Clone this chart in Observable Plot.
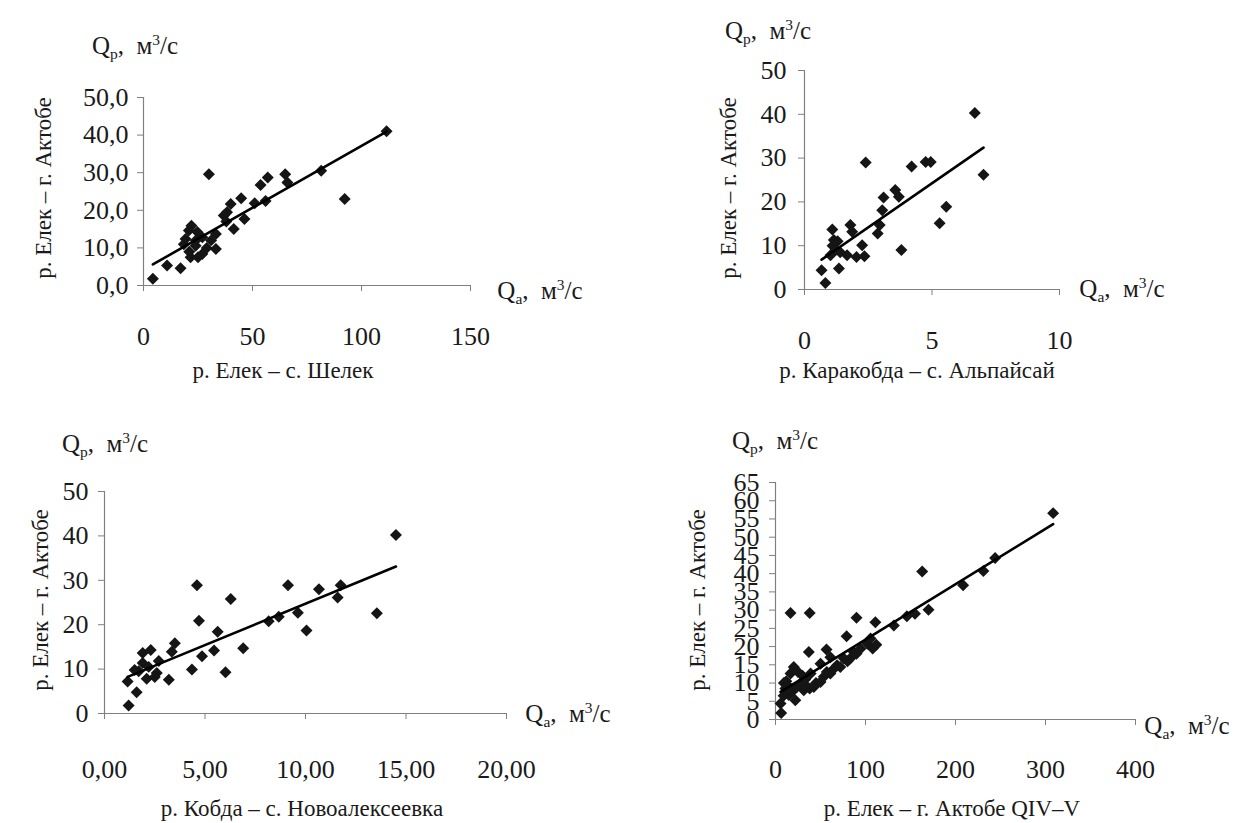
<!DOCTYPE html>
<html><head><meta charset="utf-8">
<script src="https://cdn.jsdelivr.net/npm/d3@7"></script>
<script src="https://cdn.jsdelivr.net/npm/@observablehq/plot@0.6"></script>
<style>
body{margin:0;background:#fff;}
#root{position:relative;width:1240px;height:823px;overflow:hidden;font-family:"Liberation Serif","Tinos","DejaVu Serif","Noto Serif","Times New Roman",Times,serif;color:#1a1a1a;background:#fff;}
.panel{position:absolute;}
.lbl{position:absolute;white-space:nowrap;font-size:25px;transform:translate(-50%,-50%);line-height:1;}
.lbl sub{font-size:0.62em;vertical-align:-0.35em;line-height:0;}
.lbl sup{font-size:0.62em;vertical-align:0.55em;line-height:0;}
.rot{transform:translate(-50%,-50%) rotate(-90deg);}
.ttl{font-size:23px;}
</style></head><body><div id="root"></div>
<script>
// ---- Panel 1: р. Елек – с. Шелек
const shelekQa = [4.3,10.8,17,30,92.3,81.5,111.5,65,66,57,53.7,56,51,44.8,40,38.3,46.3,41.4,36.8,22,33.2,33.2,27,21.6,19.3,24.7,23.9,18.5,27,20.8,25,29,21,31,24,38];
const shelekQp = [1.8,5.3,4.6,29.6,23,30.5,41,29.6,27.4,28.7,26.7,22.5,21.9,23.2,21.7,19.5,17.7,15,18.6,15.9,13.7,9.7,8.4,7.5,12.4,14.2,10.6,11,12.8,14.6,7.5,10,9,12,12,17];
const p1XTicks = [0,50,100,150];
const p1XLabels = ["0","50","100","150"];
const p1YTicks = [0,10,20,30,40,50];
const p1YLabels = ["0,0","10,0","20,0","30,0","40,0","50,0"];

// ---- Panel 2: р. Каракобда – с. Альпайсай
const alpQa = [0.82,0.67,1.35,1.09,1.15,1.02,1.22,1.4,1.8,1.87,1.67,2.04,2.26,2.35,2.4,2.87,2.95,3.05,3.1,3.56,3.7,3.8,4.2,4.75,4.95,5.3,5.56,6.68,7.02,1.1,1.3];
const alpQp = [1.5,4.4,4.8,13.7,11.3,7.8,9.0,8.5,14.7,13.2,7.8,7.4,10.1,7.6,29,12.8,14.7,18.1,21,22.7,21.2,9.0,28.1,29.1,29.1,15.1,18.9,40.3,26.2,10,11];
const p2XTicks = [0,5,10];
const p2XLabels = ["0","5","10"];
const p2YTicks = [0,10,20,30,40,50];
const p2YLabels = ["0","10","20","30","40","50"];

// ---- Panel 3: р. Кобда – с. Новоалексеевка
const novQa = [1.2,1.6,1.15,1.7,1.9,2.3,1.9,2.1,2.6,2.7,2.5,3.2,3.35,3.5,4.35,4.6,4.7,4.85,5.45,5.63,6.02,6.28,6.9,8.17,8.67,9.13,9.62,10.05,10.67,11.6,11.75,13.55,14.5,1.5,2.2];
const novQp = [1.8,4.8,7.2,9.5,13.6,14.3,11.4,7.8,9.1,11.8,8.2,7.6,13.9,15.8,9.9,28.9,20.9,12.9,14.2,18.4,9.3,25.8,14.7,20.8,21.8,28.9,22.7,18.7,28,26.1,28.9,22.6,40.2,9.8,10.5];
const p3XTicks = [0,5,10,15,20];
const p3XLabels = ["0,00","5,00","10,00","15,00","20,00"];
const p3YTicks = [0,10,20,30,40,50];
const p3YLabels = ["0","10","20","30","40","50"];

// ---- Panel 4: р. Елек – г. Актобе QIV–V
const aktQa = [6.3,5.6,9,11,9.3,12,14.8,18.5,16.7,20.3,22,24,27.8,31.4,35,38,42.6,45,50,53.7,39,30,50,57,61,61,65,68.5,72,76,80,83,87,90,94.4,102,105.6,108,112,16.7,38,37,56.7,79,90,111,131.5,146,155,163,170,208.5,231,244,308.5,25,33,15];
const aktQp = [1.8,4.4,6.5,8.5,10,10.5,6.7,7.6,12.6,14.4,5.3,9,9.9,8,9,8.5,8.9,10,10.3,11.7,12.6,12,15.3,13,12.6,17.1,14,14.9,14.4,16.7,16,16.7,18.5,18,19.4,20.8,22.2,19.5,20.5,29.2,29.2,18.5,19.2,22.8,27.9,26.7,25.8,28.3,29,40.6,30.1,36.8,40.7,44.3,56.6,13,11,9];
const p4XTicks = [0,100,200,300,400];
const p4XLabels = ["0","100","200","300","400"];
const p4YTicks = [0,5,10,15,20,25,30,35,40,45,50,55,60,65];
const p4YLabels = ["0","5","10","15","20","25","30","35","40","45","50","55","60","65"];

const yTitle = "р. Елек – г. Актобе";
const xTitles = ["р. Елек – с. Шелек","р. Каракобда – с. Альпайсай","р. Кобда – с. Новоалексеевка","р. Елек – г. Актобе QIV–V"];

const serif = '"Liberation Serif","Tinos","DejaVu Serif","Noto Serif","Times New Roman",Times,serif';

function makePanel(o){
  const data = o.xs.map((x,i)=>({x, y:o.ys[i]}));
  const axisColor = "#808080";
  return Plot.plot({
    width:o.w, height:o.h,
    marginLeft:o.ml, marginRight:o.mr, marginTop:o.mt, marginBottom:o.mb,
    style:{fontFamily:serif, fontSize:o.fs + "px", color:"#1a1a1a", background:"transparent", overflow:"visible"},
    x:{domain:[o.xt[0], o.xt[o.xt.length-1]]},
    y:{domain:[o.yt[0], o.yt[o.yt.length-1]]},
    marks:[
      Plot.ruleY([o.yt[0]], {stroke:axisColor, strokeWidth:1.2}),
      Plot.ruleX([o.xt[0]], {stroke:axisColor, strokeWidth:1.2}),
      Plot.axisX({ticks:o.xt, tickFormat:d=>o.xl[o.xt.indexOf(d)], tickSize:6, tickPadding:o.xPad, stroke:axisColor, fill:"#1a1a1a", fontSize:o.fs, label:null}),
      Plot.axisY({ticks:o.yt, tickFormat:d=>o.yl[o.yt.indexOf(d)], tickSize:6, tickPadding:o.yPad, stroke:axisColor, fill:"#1a1a1a", fontSize:o.fs, label:null}),
      Plot.dot(data, {x:"x", y:"y", symbol:"diamond2", r:5.4, fill:"#151515", stroke:"none"}),
      Plot.linearRegressionY(data, {x:"x", y:"y", ci:0, stroke:"#000", strokeWidth:2.6})
    ]
  });
}

const root = document.getElementById("root");
const panels = [
  {left:0, top:0, w:620, h:400, ml:143, mr:150, mt:97, mb:115, xs:shelekQa, ys:shelekQp, xt:p1XTicks, xl:p1XLabels, yt:p1YTicks, yl:p1YLabels, xPad:35, yPad:9, fs:26,
   qp:[135,45], qa:[540,290], ttl:[283,370], rot:[43,188]},
  {left:620, top:0, w:620, h:400, ml:184, mr:181, mt:70, mb:111, xs:alpQa, ys:alpQp, xt:p2XTicks, xl:p2XLabels, yt:p2YTicks, yl:p2YLabels, xPad:35, yPad:12, fs:26,
   qp:[768,30], qa:[1122,288], ttl:[917,370], rot:[728,188]},
  {left:0, top:420, w:620, h:403, ml:104, mr:114, mt:71, mb:110, xs:novQa, ys:novQp, xt:p3XTicks, xl:p3XLabels, yt:p3YTicks, yl:p3YLabels, xPad:40, yPad:10, fs:26,
   qp:[105,443], qa:[568,713], ttl:[302,808], rot:[40,600]},
  {left:620, top:420, w:620, h:403, ml:155, mr:105, mt:62, mb:104, xs:aktQa, ys:aktQp, xt:p4XTicks, xl:p4XLabels, yt:p4YTicks, yl:p4YLabels, xPad:34, yPad:10, fs:26,
   qp:[775,440], qa:[1187,725], ttl:[952,808], rot:[697,600]}
];

function addLabel(html, pos, cls){
  const d = document.createElement("div");
  d.className = "lbl " + (cls||"");
  d.style.left = pos[0] + "px";
  d.style.top = pos[1] + "px";
  d.innerHTML = html;
  root.appendChild(d);
}

panels.forEach((p,i)=>{
  const wrap = document.createElement("div");
  wrap.className = "panel";
  wrap.style.left = p.left + "px";
  wrap.style.top = p.top + "px";
  wrap.appendChild(makePanel(p));
  root.appendChild(wrap);
  addLabel("Q<sub>р</sub>,&nbsp; м<sup>3</sup>/с", p.qp);
  addLabel("Q<sub>а</sub>,&nbsp; м<sup>3</sup>/с", p.qa);
  addLabel(xTitles[i], p.ttl, "ttl");
  addLabel(yTitle, p.rot, "rot ttl");
});
</script></body></html>
